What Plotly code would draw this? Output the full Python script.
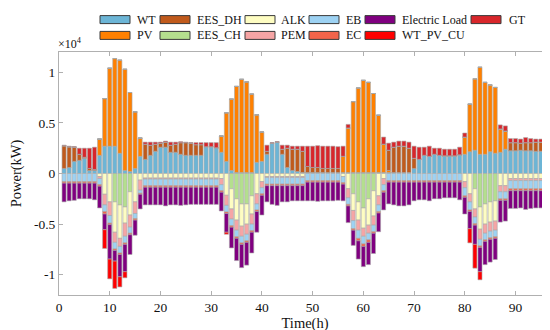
import plotly.graph_objects as go

hours = list(range(1, 97))

# ---- supply side (kW, positive) ----
WT = [500, 600, 1200, 1300, 1500, 300, 300, 1800, 2700, 2700, 2700, 2000,
      300, 200, 500, 1700, 1400, 1800, 2200, 2600, 2600, 2100, 2100, 1900,
      1800, 1800, 1800, 1800, 2650, 2650, 2550, 2100, 1200, 300, 100, 100,
      100, 100, 1100, 1200, 1900, 3000, 3100, 1900, 600, 300, 200, 100,
      100, 100, 100, 100, 100, 100, 100, 100, 100, 100, 100, 100,
      100, 100, 100, 100, 100, 100, 100, 100, 100, 500, 1400, 1800,
      1700, 1900, 1800, 1750, 1750, 1750, 1850, 1900, 2150, 2300, 1900, 1900,
      2150, 2000, 2100, 2400, 2250, 2250, 2300, 2250, 2250, 2200, 2200, 2200]
PV = [0, 0, 0, 0, 0, 0, 0, 1600, 4700, 7700, 8650, 9200,
      10000, 7800, 5600, 1800, 0, 0, 0, 0, 0, 0, 0, 0,
      0, 0, 0, 0, 0, 0, 0, 1600, 4800, 7050, 8500, 9200,
      8950, 7750, 4700, 2900, 0, 0, 0, 0, 0, 0, 0, 0,
      0, 0, 0, 0, 0, 0, 0, 1600, 4400, 7000, 8350, 9100,
      8900, 7800, 5650, 2800, 200, 0, 0, 0, 0, 0, 0, 0,
      0, 0, 0, 0, 0, 0, 0, 1700, 4700, 7050, 8600, 7100,
      6600, 6500, 2300, 1800, 0, 0, 0, 0, 0, 0, 0, 0]
EES_DH = [2250, 2050, 1400, 600, 100, 200, 100, 0, 0, 0, 0, 0,
          0, 0, 0, 0, 1500, 1000, 700, 400, 500, 700, 800, 1150,
          1250, 1200, 1050, 1050, 0, 0, 0, 0, 0, 0, 0, 0,
          0, 0, 0, 0, 300, 0, 0, 500, 1900, 2100, 2200, 2100,
          600, 500, 500, 400, 400, 400, 400, 0, 0, 0, 0, 0,
          0, 0, 0, 0, 2000, 2500, 2600, 2600, 2400, 1000, 0, 0,
          0, 0, 0, 0, 0, 0, 0, 0, 0, 0, 0, 0,
          0, 0, 0, 0, 800, 800, 700, 800, 800, 900, 900, 200]
GT = [50, 50, 50, 600, 900, 2000, 2200, 0, 0, 0, 0, 0,
      0, 0, 0, 0, 200, 300, 200, 100, 100, 300, 200, 100,
      50, 50, 200, 200, 400, 400, 500, 0, 0, 0, 0, 0,
      0, 0, 0, 0, 600, 50, 50, 400, 300, 300, 300, 500,
      2000, 2100, 2150, 2200, 2200, 2200, 2150, 1000, 350, 0, 0, 0,
      0, 0, 0, 700, 700, 500, 500, 500, 600, 1200, 1200, 800,
      1000, 600, 700, 650, 650, 650, 750, 400, 0, 0, 0, 0,
      0, 0, 400, 500, 400, 400, 400, 500, 400, 300, 300, 1100]

# ---- demand side (kW, consumed magnitudes; drawn below zero) ----
EES_CH = [0, 0, 0, 0, 0, 0, 0, 0, 0, 0, 2800, 3100,
          3300, 1800, 0, 0, 0, 0, 0, 0, 0, 0, 0, 0,
          0, 0, 0, 0, 0, 0, 0, 0, 0, 1500, 2500, 3000,
          3000, 2200, 0, 0, 0, 0, 0, 0, 0, 0, 0, 0,
          0, 0, 0, 0, 0, 0, 0, 0, 0, 2000, 2800, 3400,
          2500, 1700, 0, 0, 0, 0, 0, 0, 0, 0, 0, 0,
          0, 0, 0, 0, 0, 0, 0, 0, 0, 1500, 3300, 3000,
          2800, 2700, 0, 0, 0, 0, 0, 0, 0, 0, 0, 0]
ALK = [0, 0, 0, 0, 0, 0, 0, 300, 2050, 2800, 3000, 3300,
       1600, 2300, 2800, 650, 450, 450, 450, 450, 450, 450, 450, 450,
       450, 450, 450, 450, 450, 450, 450, 500, 2150, 2000, 2100, 2200,
       2000, 1800, 2000, 800, 300, 300, 300, 300, 300, 300, 300, 300,
       0, 0, 0, 0, 0, 0, 0, 300, 1500, 1650, 1800, 2000,
       2600, 2500, 2200, 500, 0, 0, 0, 0, 0, 0, 0, 0,
       0, 0, 0, 0, 0, 0, 0, 800, 2000, 2000, 2200, 2000,
       2000, 2000, 1200, 1200, 500, 500, 500, 500, 500, 500, 500, 500]
PEM = [0, 0, 0, 0, 0, 0, 0, 200, 1050, 1350, 1000, 800,
       1300, 1200, 1150, 1000, 100, 100, 100, 100, 100, 100, 100, 100,
       100, 100, 100, 100, 100, 100, 100, 600, 1000, 1000, 1000, 1000,
       1000, 1000, 1000, 600, 100, 100, 100, 100, 100, 100, 100, 100,
       0, 0, 0, 0, 0, 0, 0, 0, 900, 1000, 1000, 800,
       800, 900, 900, 600, 0, 0, 0, 0, 0, 0, 0, 0,
       0, 0, 0, 0, 0, 0, 0, 600, 800, 800, 1000, 900,
       900, 900, 600, 600, 200, 200, 200, 200, 200, 200, 200, 200]
EB = [800, 800, 800, 800, 800, 800, 800, 600, 650, 750, 650, 650,
      650, 600, 500, 300, 650, 650, 650, 650, 650, 650, 650, 650,
      650, 650, 650, 650, 650, 650, 650, 600, 650, 650, 650, 650,
      650, 650, 600, 600, 650, 650, 650, 650, 650, 650, 650, 650,
      700, 700, 700, 700, 700, 700, 700, 600, 650, 800, 800, 750,
      650, 650, 650, 600, 700, 700, 700, 700, 700, 700, 700, 700,
      700, 700, 700, 700, 700, 700, 700, 800, 800, 650, 650, 650,
      650, 650, 700, 700, 800, 800, 800, 800, 800, 800, 800, 800]
EC = [150, 150, 150, 150, 150, 150, 150, 150, 250, 150, 150, 150,
      150, 150, 150, 100, 150, 150, 150, 150, 150, 150, 150, 150,
      150, 150, 150, 150, 150, 150, 150, 150, 150, 150, 150, 150,
      150, 150, 150, 150, 150, 150, 150, 150, 150, 150, 150, 150,
      150, 150, 150, 150, 150, 150, 150, 150, 150, 150, 250, 250,
      250, 150, 150, 150, 150, 150, 150, 150, 150, 150, 150, 150,
      150, 150, 150, 150, 150, 150, 150, 150, 150, 150, 150, 150,
      150, 150, 150, 150, 200, 200, 200, 200, 200, 200, 200, 200]
Electric_Load = [1850, 1750, 1700, 1550, 1550, 1550, 1650, 2150, 1550, 3400, 1050, 2200,
                 2700, 1950, 1500, 1450, 1750, 1750, 1750, 1750, 1850, 1750, 1750, 1800,
                 1750, 1700, 1700, 1700, 1700, 1700, 1700, 1850, 1850, 2050, 2200, 2300,
                 2250, 2050, 2050, 1950, 1600, 1850, 1950, 1600, 1600, 1500, 1500, 1500,
                 1850, 1850, 1900, 1850, 1850, 1850, 1800, 1650, 1650, 1500, 1800, 2000,
                 2200, 2000, 1850, 1750, 2150, 2250, 2350, 2350, 2250, 1850, 1750, 1750,
                 1850, 1650, 1650, 1550, 1550, 1550, 1750, 1650, 1700, 1900, 2400, 2300,
                 2250, 2100, 2150, 2050, 1750, 1750, 1700, 1850, 1750, 1700, 1700, 1800]
WT_PV_CU = [0, 0, 0, 0, 0, 0, 0, 0, 1850, 1950, 2700, 1000,
            600, 0, 0, 0, 0, 0, 0, 0, 0, 0, 0, 0,
            0, 0, 0, 0, 0, 0, 0, 0, 200, 0, 0, 0,
            0, 0, 0, 0, 0, 0, 0, 0, 0, 0, 0, 0,
            0, 0, 0, 0, 0, 0, 0, 0, 0, 0, 0, 0,
            0, 0, 0, 0, 0, 0, 0, 0, 0, 0, 0, 0,
            0, 0, 0, 0, 0, 0, 0, 0, 1400, 2350, 800, 0,
            0, 0, 0, 0, 0, 0, 0, 0, 0, 0, 0, 0]

ytick_vals = [-10000, -5000, 0, 5000, 10000]
ytick_text = ["-1", "-0.5", "0", "0.5", "1"]
xtick_vals = [0, 10, 20, 30, 40, 50, 60, 70, 80, 90]

FONT = "Liberation Serif, Times New Roman, serif"

# (name, data, sign, color, legend column, legend row)
series = [
    ("WT", WT, 1, "#6cb5d6", 0, 0),
    ("PV", PV, 1, "#ff8000", 0, 1),
    ("EES_DH", EES_DH, 1, "#c05a1c", 1, 0),
    ("EES_CH", EES_CH, -1, "#b4df8e", 1, 1),
    ("ALK", ALK, -1, "#fefdc2", 2, 0),
    ("PEM", PEM, -1, "#f6a5a5", 2, 1),
    ("EB", EB, -1, "#9dd2f3", 3, 0),
    ("EC", EC, -1, "#f2644a", 3, 1),
    ("Electric Load", Electric_Load, -1, "#800080", 4, 0),
    ("WT_PV_CU", WT_PV_CU, -1, "#ff0000", 4, 1),
    ("GT", GT, 1, "#d8262b", 5, 0),
]

# plot box in pixels
PL, PT, PW, PH = 51, 44, 492, 243
W, H = 550, 330


def px_x(px):
    return (px - PL) / PW


def px_y(py):
    return (PT + PH - py) / PH


fig = go.Figure()
for name, vals, sign, color, col, row in series:
    fig.add_trace(go.Bar(
        x=hours, y=[sign * v for v in vals], name=name, width=0.8,
        marker=dict(color=color, line=dict(color="#a8a8a8", width=0.6)),
        showlegend=False,
    ))

# legend drawn as swatches + text labels, 6 columns x 2 rows
swatch_x0 = [92, 152, 237, 301, 357, 463]
label_x0 = [127, 187, 271, 336, 392, 499]
row_cy = [11.6, 27.4]
shapes, annotations = [], []
for name, vals, sign, color, col, row in series:
    cy = row_cy[row]
    shapes.append(dict(type="rect", xref="paper", yref="paper",
                       x0=px_x(swatch_x0[col]), x1=px_x(swatch_x0[col] + 30),
                       y0=px_y(cy + 4), y1=px_y(cy - 4),
                       fillcolor=color, line=dict(color="#3a3a3a", width=1)))
    annotations.append(dict(text=name, xref="paper", yref="paper",
                            x=px_x(label_x0[col]), y=px_y(cy),
                            xanchor="left", yanchor="middle", showarrow=False,
                            font=dict(family=FONT, size=12, color="#111")))

annotations.append(dict(text="×10<sup>4</sup>", xref="paper", yref="paper",
                        x=px_x(48), y=px_y(35), xanchor="left",
                        yanchor="middle", showarrow=False,
                        font=dict(family=FONT, size=12, color="#111")))

fig.update_layout(
    width=W, height=H,
    margin=dict(l=PL, r=W - PL - PW, t=PT, b=H - PT - PH, autoexpand=False),
    paper_bgcolor="white", plot_bgcolor="white",
    barmode="relative",
    font=dict(family=FONT, size=13, color="#111"),
    showlegend=False,
    xaxis=dict(range=[0, 97], tickvals=xtick_vals, ticks="inside", ticklen=4,
               tickcolor="#b0b0b0", showline=True, linecolor="#b0b0b0",
               linewidth=1, mirror="ticks", showgrid=False, zeroline=False,
               automargin=False,
               tickfont=dict(family=FONT, size=13.5),
               title=dict(text="Time(h)", font=dict(family=FONT, size=14.5),
                          standoff=3)),
    yaxis=dict(range=[-12000, 12000], tickvals=ytick_vals, ticktext=ytick_text,
               ticks="inside", ticklen=4, tickcolor="#b0b0b0", showline=True,
               linecolor="#b0b0b0", linewidth=1, mirror="ticks",
               showgrid=False, zeroline=False, automargin=False,
               tickfont=dict(family=FONT, size=13.5),
               title=dict(text="Power(kW)", font=dict(family=FONT, size=14.5),
                          standoff=8)),
    shapes=shapes,
    annotations=annotations,
)

fig.write_html("out.html")
